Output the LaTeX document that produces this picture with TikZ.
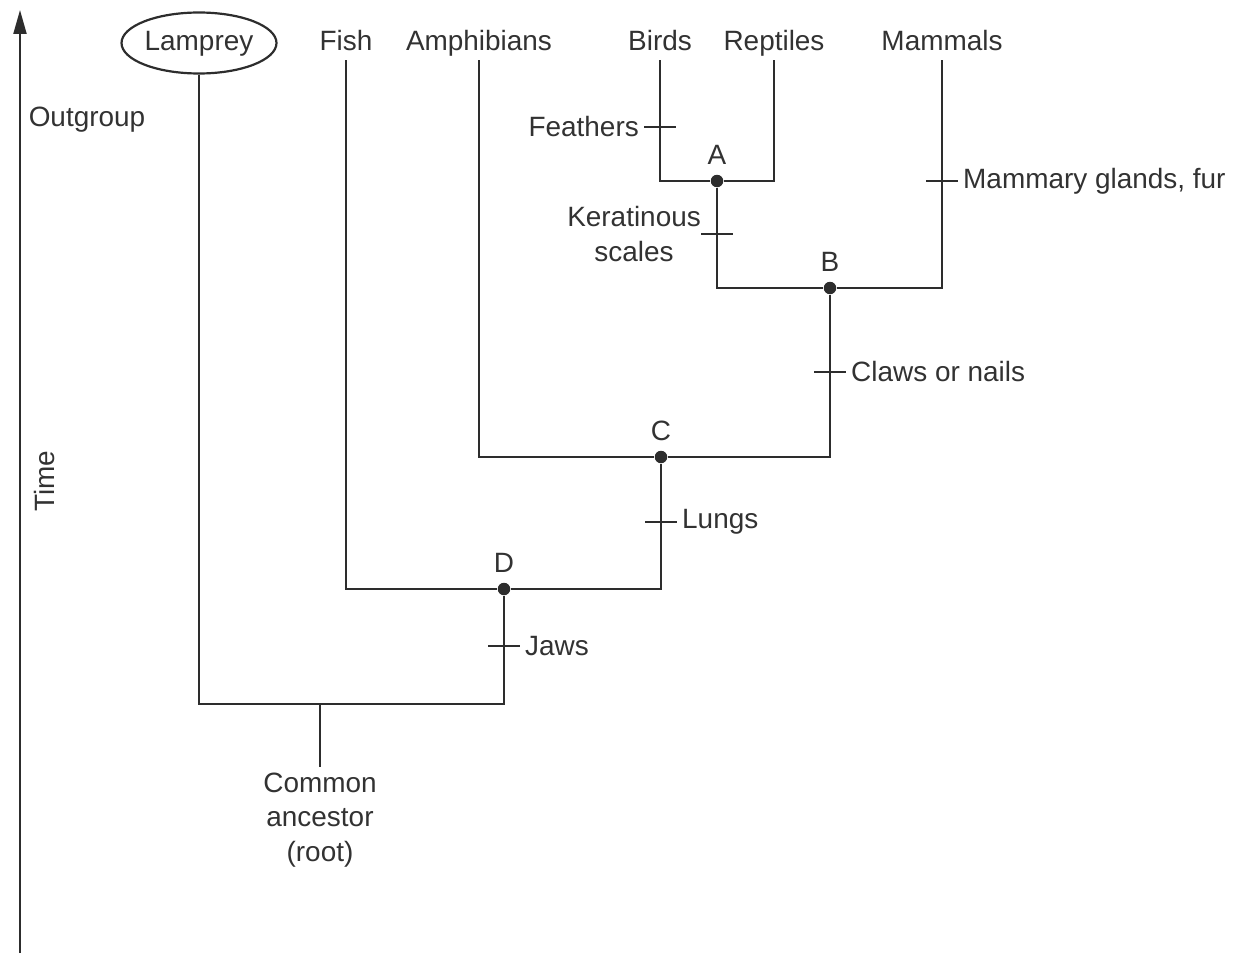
\documentclass[tikz,border=0pt]{standalone}
\usepackage{fontspec}
\setmainfont{Liberation Sans}
\usetikzlibrary{positioning,arrows.meta,shapes.geometric}
\definecolor{TreeGray}{RGB}{45,45,45}
\definecolor{TextGray}{RGB}{50,50,50}

\begin{document}
\begin{tikzpicture}[
x=0.02cm, y=-0.02cm,
every node/.style={text=TextGray, font=\fontsize{15.9}{19.5}\selectfont},
every label/.style={yshift=2pt},
taxon/.style={inner sep=2pt, text height=11.5pt, text depth=3.5pt},
branch/.style={draw=TreeGray, line width=1.25pt},
dot/.style={circle, fill=TreeGray, inner sep=0pt, minimum size=0.25cm},
tickmark/.style={draw=TreeGray, line width=1.25pt},
lbl/.style={align=center}
]
\useasboundingbox (0,0) rectangle (1239,953);

% time axis
\coordinate (t0) at (20,953);
\coordinate (t1) at (20,10);
\draw[branch,-{Triangle[length=0.48cm,width=0.26cm]}] (t0) -- (t1);
\node[rotate=90] (time) at (45,481) {Time};
\node (outgroup) at (87,120) {Outgroup};

% taxa
\node[taxon, ellipse, draw=TreeGray, line width=1.25pt, minimum width=3.1cm, minimum height=1.22cm, inner sep=0pt] (lamprey) at (199,43) {Lamprey};
\node[taxon] (fish) at (346,43) {Fish};
\node[taxon] (amph) at (479,43) {Amphibians};
\node[taxon] (birds) at (660,43) {Birds};
\node[taxon] (reptiles) at (774,43) {Reptiles};
\node[taxon] (mammals) at (942,43) {Mammals};

% internal nodes
\node[dot, label={above:A}] (A) at (717,181) {};
\node[dot, label={above:B}] (B) at (830,288) {};
\node[dot, label={above:C}] (C) at (661,457) {};
\node[dot, label={above:D}] (D) at (504,589) {};
\coordinate (R) at (320,704);
\node[lbl, anchor=north] (root) at (320,767) {Common\\ancestor\\(root)};

% branches
\draw[branch] (birds.south) |- (A) -| (reptiles.south);
\draw[branch] (A) |- (B) -| (mammals.south);
\draw[branch] (amph.south) |- (C) -| (B);
\draw[branch] (fish.south) |- (D) -| (C);
\draw[branch] (lamprey.south) |- (R) -| (D);
\draw[branch] (R) -- (root.north);

% characters
\coordinate (tFeath) at (660,127);
\coordinate (tKer) at (717,234);
\coordinate (tMam) at (942,181);
\coordinate (tClaw) at (830,372);
\coordinate (tLung) at (661,522);
\coordinate (tJaw) at (504,646);
\foreach \t in {tFeath,tKer,tMam,tClaw,tLung,tJaw}
  \draw[tickmark] (\t) +(-16,0) -- +(16,0);
\node[left=0.3cm of tFeath] (feathers) {Feathers};
\node[lbl, left=0.2cm of tKer] (keratin) {Keratinous\\scales};
\node[right=0.3cm of tMam] (mammary) {Mammary glands, fur};
\node[right=0.3cm of tClaw] (claws) {Claws or nails};
\node[right=0.3cm of tLung] (lungs) {Lungs};
\node[right=0.3cm of tJaw] (jaws) {Jaws};
\end{tikzpicture}
\end{document}
